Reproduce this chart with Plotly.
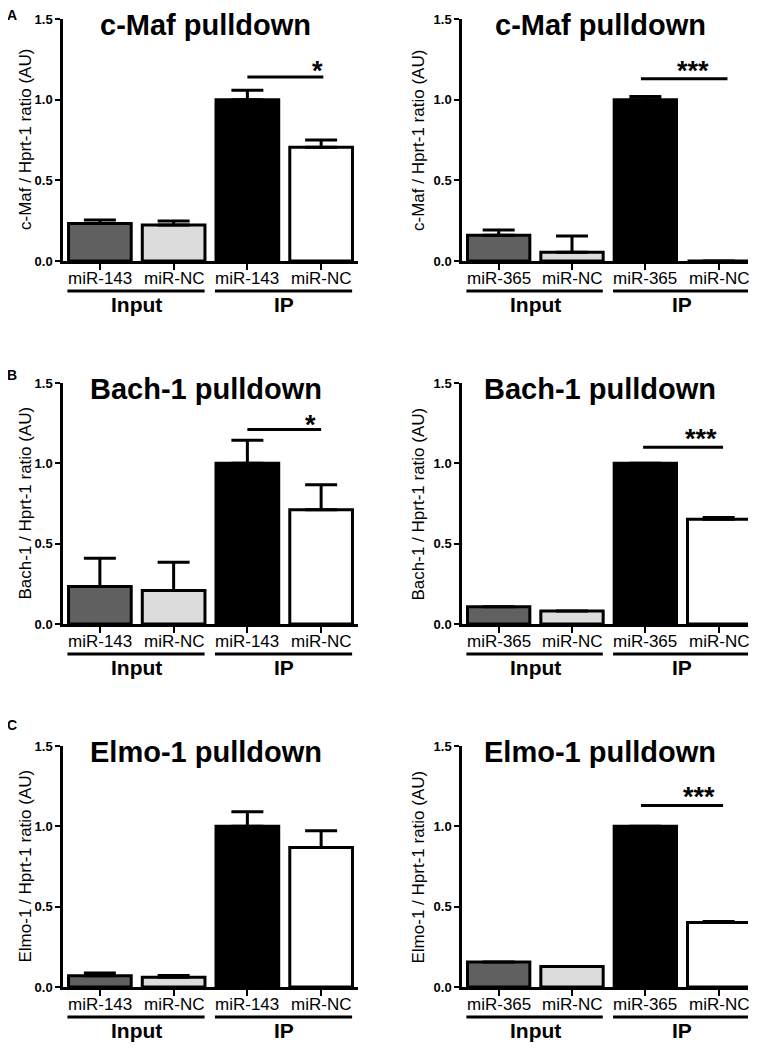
import plotly.graph_objects as go

# Category tick labels and group labels
labels_143 = ["miR-143", "miR-NC", "miR-143", "miR-NC"]
labels_365 = ["miR-365", "miR-NC", "miR-365", "miR-NC"]
group_names = ["Input", "IP"]
y_tick_values = [0, 0.5, 1.0, 1.5]

# Mean ratios (Input miR, Input NC, IP miR, IP NC) and upper SEM
cmaf_143 = [0.233, 0.223, 1.0, 0.705]
cmaf_143_sem = [0.021, 0.025, 0.058, 0.045]
cmaf_365 = [0.159, 0.054, 1.0, 0.0]
cmaf_365_sem = [0.033, 0.101, 0.020, 0.0]
bach_143 = [0.233, 0.208, 1.0, 0.711]
bach_143_sem = [0.176, 0.176, 0.143, 0.155]
bach_365 = [0.108, 0.081, 1.0, 0.652]
bach_365_sem = [0.0, 0.0, 0.0, 0.011]
elmo_143 = [0.070, 0.060, 1.0, 0.869]
elmo_143_sem = [0.017, 0.012, 0.090, 0.103]
elmo_365 = [0.155, 0.128, 1.0, 0.401]
elmo_365_sem = [0.0, 0.0, 0.0, 0.007]

panel_titles = ["c-Maf pulldown", "c-Maf pulldown", "Bach-1 pulldown",
                "Bach-1 pulldown", "Elmo-1 pulldown", "Elmo-1 pulldown"]
y_titles = ["c-Maf / Hprt-1 ratio (AU)", "c-Maf / Hprt-1 ratio (AU)",
            "Bach-1 / Hprt-1 ratio (AU)", "Bach-1 / Hprt-1 ratio (AU)",
            "Elmo-1 / Hprt-1 ratio (AU)", "Elmo-1 / Hprt-1 ratio (AU)"]
sig_stars = ["*", "***", "*", "***", "", "***"]

panels = [
    (labels_143, cmaf_143, cmaf_143_sem),
    (labels_365, cmaf_365, cmaf_365_sem),
    (labels_143, bach_143, bach_143_sem),
    (labels_365, bach_365, bach_365_sem),
    (labels_143, elmo_143, elmo_143_sem),
    (labels_365, elmo_365, elmo_365_sem),
]

# significance bar placement: (line y, line x0, line x1, star x, star y)
sig_marks = [
    (1.14, 2.0, 3.03, 2.95, 1.23),
    (1.13, 1.94, 3.12, 2.65, 1.23),
    (1.21, 2.0, 3.0, 2.85, 1.29),
    (1.10, 1.97, 3.06, 2.76, 1.20),
    None,
    (1.13, 1.94, 3.06, 2.73, 1.23),
]

# the page body has an 8px margin, so the figure is 8px smaller than the window
OFF = 8
W, H = 761 - OFF, 1051 - OFF


def fx(p):
    return (p - OFF) / W


def fy(p):
    return 1 - (p - OFF) / H


bar_colors = ["#606060", "#dcdcdc", "#000000", "#ffffff"]
FONT = "Liberation Sans, Arial, sans-serif"

col_px = [(63, 358), (462, 748)]
col_range = [[-0.5, 3.5], [-0.5, 3.4]]
row_px = [(19, 261), (383, 624), (746, 987)]
letter_px = [("A", 15), ("B", 375), ("C", 725)]

fig = go.Figure()
shapes = []
annotations = []

for i, (labels, means, sems) in enumerate(panels):
    row, col = i // 2, i % 2
    n = i + 1
    xa = "x" if n == 1 else "x%d" % n
    ya = "y" if n == 1 else "y%d" % n

    fig.add_trace(go.Bar(
        x=[0, 1, 2, 3], y=means, width=0.85,
        marker=dict(color=bar_colors, line=dict(color="black", width=3)),
        error_y=dict(type="data", symmetric=False, array=sems,
                     arrayminus=[0, 0, 0, 0], color="black",
                     thickness=3, width=16),
        xaxis=xa, yaxis=ya, showlegend=False, hoverinfo="skip",
        cliponaxis=False,
    ))

    x0, x1 = col_px[col]
    y0, y1 = row_px[row]
    fig.layout[xa.replace("x", "xaxis")] = dict(
        domain=[fx(x0), fx(x1)], range=col_range[col], anchor=ya,
        tickvals=[0, 1, 2, 3], showticklabels=False,
        showline=True, linecolor="black", linewidth=2.5,
        ticks="outside", ticklen=6, tickwidth=2, tickcolor="black",
        showgrid=False, zeroline=False, fixedrange=True, automargin=False,
    )
    fig.layout[ya.replace("y", "yaxis")] = dict(
        domain=[fy(y1), fy(y0)], range=[0, 1.5], anchor=xa,
        tickvals=y_tick_values, tickformat=".1f",
        tickfont=dict(family=FONT, size=13, color="black", weight="bold"),
        showline=True, linecolor="black", linewidth=2.5,
        ticks="outside", ticklen=5, tickwidth=2, tickcolor="black",
        showgrid=False, zeroline=False, fixedrange=True, automargin=False,
    )

    # category labels under the ticks
    for k, lab in enumerate(labels):
        annotations.append(dict(text=lab, xref=xa, yref="paper", x=k, y=fy(y1 + 17),
                                showarrow=False, yanchor="middle",
                                font=dict(family=FONT, size=17, color="black")))

    # group underlines and labels
    for g, (gx0, gx1) in enumerate([(-0.44, 1.42), (1.56, 3.42)]):
        shapes.append(dict(type="line", xref=xa, yref="paper",
                           x0=gx0, x1=gx1, y0=fy(y1 + 30), y1=fy(y1 + 30),
                           line=dict(color="black", width=3)))
        annotations.append(dict(text="<b>%s</b>" % group_names[g], xref=xa, yref="paper",
                                x=0.5 + 2 * g, y=fy(y1 + 43), showarrow=False,
                                yanchor="middle",
                                font=dict(family=FONT, size=21, color="black")))

    # panel title
    annotations.append(dict(text="<b>%s</b>" % panel_titles[i], xref=xa + " domain",
                            yref="paper", x=0.5, y=fy(y0 + 6), xshift=-5,
                            yanchor="middle", showarrow=False,
                            font=dict(family=FONT, size=29, color="black")))

    # y axis title
    annotations.append(dict(text=y_titles[i], xref="paper", yref=ya + " domain",
                            x=fx(x0 - (38 if col == 0 else 44)), y=0.5,
                            textangle=-90, showarrow=False,
                            xanchor="center", yanchor="middle",
                            font=dict(family=FONT, size=17, color="black")))

    # significance marker
    if sig_marks[i] is not None:
        ly, lx0, lx1, sx, sy = sig_marks[i]
        shapes.append(dict(type="line", xref=xa, yref=ya, x0=lx0, x1=lx1,
                           y0=ly, y1=ly, line=dict(color="black", width=3)))
        annotations.append(dict(text="<b>%s</b>" % sig_stars[i], xref=xa, yref=ya,
                                x=sx, y=sy, yshift=-8, showarrow=False,
                                yanchor="middle",
                                font=dict(family=FONT, size=27, color="black")))

for letter, ly in letter_px:
    annotations.append(dict(text="<b>%s</b>" % letter, xref="paper", yref="paper",
                            x=fx(12), y=fy(ly), showarrow=False,
                            xanchor="center", yanchor="middle",
                            font=dict(family=FONT, size=14, color="black")))

fig.update_layout(
    width=W, height=H,
    margin=dict(l=0, r=0, t=0, b=0, pad=0, autoexpand=False),
    paper_bgcolor="white", plot_bgcolor="white",
    shapes=shapes, annotations=annotations,
)

fig.write_html("out.html")
